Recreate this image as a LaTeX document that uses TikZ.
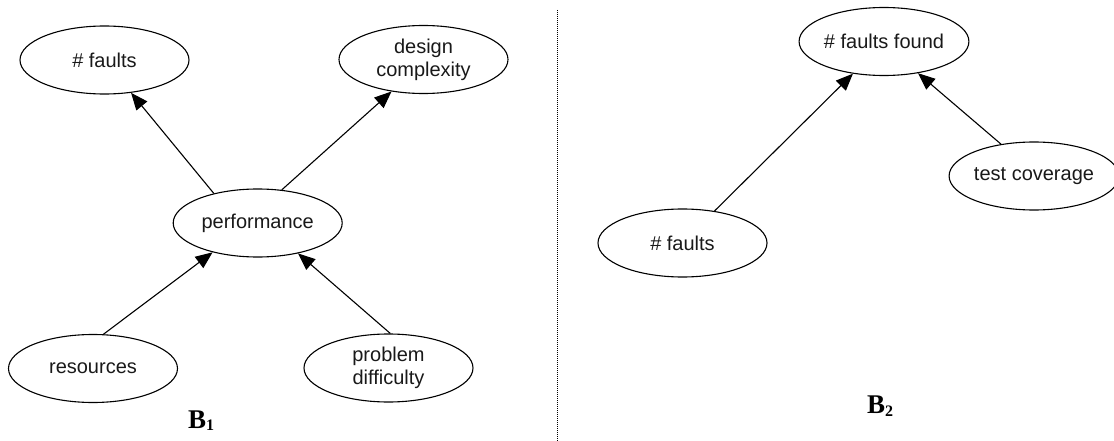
\documentclass[tikz,border=0pt]{standalone}
\usepackage{fontspec}
\setmainfont{Liberation Sans}
\newfontfamily\labelserif{Liberation Serif}
\usetikzlibrary{shapes.geometric,arrows.meta}
\tikzset{
  var/.style={ellipse, draw, line width=1.1pt, minimum width=169pt, minimum height=68pt,
    inner sep=0pt, align=center, text=black!90, font=\fontsize{20}{23}\selectfont},
  link/.style={line width=1.1pt, -{Triangle[length=17pt,width=14pt]}},
  tag/.style={anchor=base west, inner sep=0pt, font=\labelserif\bfseries\fontsize{27}{30}\selectfont},
  divider/.style={line width=1pt, black, dash pattern=on 1pt off 1pt}
}
\newcommand{\subnum}[1]{\raisebox{-2.5pt}{\fontsize{16}{16}\selectfont #1}}
\begin{document}
\begin{tikzpicture}[x=1pt,y=-1pt]
  \useasboundingbox (0,0) rectangle (1114,441);

  % left model
  \node[var] (faultsL) at (104.5,60) {\# faults};
  \node[var] (design) at (423.5,59.5) {design\\complexity};
  \node[var] (perf) at (257.7,223) {performance};
  \node[var] (res) at (93,368.5) {resources};
  \node[var] (prob) at (388.5,368) {problem\\difficulty};
  \node[tag] (b1) at (188,428) {B\subnum{1}};

  \draw[link] (perf.146.7) -- (faultsL.-51.4);
  \draw[link] (perf.54.8) -- (design.-135.9);
  \draw[link] (res.73.4) -- (perf.213.6);
  \draw[link] (prob.87.5) -- (perf.-37.1);

  % separator
  \coordinate (sepT) at (557,10);
  \coordinate (sepB) at (557,441);
  \draw[divider] (sepT) -- (sepB);

  % right model
  \node[var] (found) at (884,41.5) {\# faults found};
  \node[var] (cover) at (1034,176) {test coverage};
  \node[var] (faultsR) at (682.5,243) {\# faults};
  \node[tag] (b2) at (867,413.5) {B\subnum{2}};

  \draw[link] (faultsR.45.4) -- (found.226.4);
  \draw[link] (cover.136.7) -- (found.-43.7);
\end{tikzpicture}
\end{document}
